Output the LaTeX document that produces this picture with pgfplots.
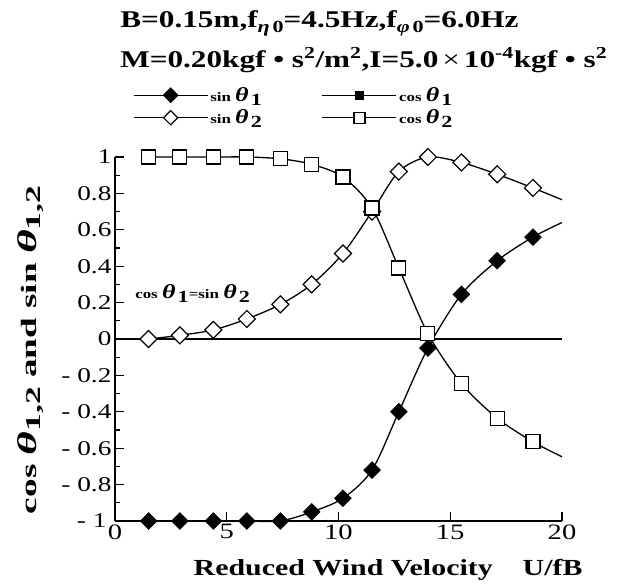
\documentclass[border=0pt]{standalone}
\usepackage{pgfplots}
\pgfplotsset{compat=1.18}
\usepackage{fontspec}
\setmainfont{Liberation Serif}[FakeStretch=1.3]

\newcommand{\tht}[1]{{\fontsize{#1}{#1}\selectfont\textit{θ}}}
\newcommand{\sub}[2]{\raisebox{-4pt}{\fontsize{#1}{#1}\selectfont #2}}

% x, value ; last row (x=20) is the end of the curve, drawn without a mark
\pgfplotstableread{
x     sinA    sinB    cosB
1.5   -1.0    0.00    1.00
2.9   -1.0    0.02    1.00
4.4   -1.0    0.05    1.00
5.9   -1.0    0.11    1.00
7.4   -1.0    0.19    0.99
8.8   -0.95   0.30    0.96
10.2  -0.875  0.47    0.89
11.5  -0.72   0.70    0.72
12.7  -0.40   0.92    0.39
14.0  -0.05   1.00    0.03
15.5   0.245  0.97   -0.245
17.1   0.43   0.905  -0.435
18.7   0.56   0.83   -0.565
20.0   0.64   0.765  -0.647
}\data

\begin{document}
\begin{tikzpicture}
\begin{axis}[
  at={(0pt,0pt)}, anchor=south west,
  scale only axis, width=447pt, height=364pt,
  xmin=0, xmax=20, ymin=-1, ymax=1,
  axis x line=bottom, axis y line=left,
  axis line style={-, line width=1.6pt},
  tick align=inside,
  major tick length=9pt, minor tick length=5pt,
  tick style={line width=1.2pt, black},
  xtick={0,5,10,15,20},
  xticklabels={0,5,10,15,20},
  ytick={-1,-0.8,-0.6,-0.4,-0.2,0,0.2,0.4,0.6,0.8,1},
  yticklabels={- 1\rule{5pt}{0pt},- 0.8,- 0.6,- 0.4,- 0.2,0,0.2,0.4,0.6,0.8,1},
  minor ytick={-0.9,-0.7,-0.5,-0.3,-0.1,0.1,0.3,0.5,0.7,0.9},
  xticklabel style={font=\fontsize{22}{22}\selectfont},
  yticklabel style={font=\fontsize{21}{21}\selectfont},
  xlabel={\bfseries Reduced Wind Velocity\hspace{30pt}U/fB},
  xlabel style={at={(axis description cs:0.611,0)}, anchor=base, yshift=-54pt, font=\fontsize{23}{23}\selectfont},
  ylabel={\scalebox{1.3}[1]{\bfseries cos \tht{27}\sub{21}{1,2} and sin \tht{27}\sub{21}{1,2}}},
  ylabel style={at={(axis description cs:-0.188,0.47)}, anchor=center, font=\fontsize{22}{22}\selectfont},
  clip=false,
  legend columns=2,
  legend style={at={(axis description cs:0.04,1.197)}, anchor=north west,
    draw=none, fill=none, font=\fontsize{13}{16}\selectfont\bfseries,
    inner sep=0pt, row sep=3pt, /tikz/every even column/.append style={column sep=58pt}},
  legend cell align=left,
  legend image code/.code={\draw[mark repeat=2,mark phase=2,#1] plot coordinates {(0pt,0pt)(37pt,0pt)(74pt,0pt)};},
]
% zero line
\addplot[black, line width=1.2pt, forget plot] coordinates {(0,0) (20,0)};

% curves
\addplot[black, line width=1.3pt, smooth, forget plot] table[y=sinA] {\data};
\addplot[black, line width=1.3pt, smooth, forget plot] table[y=sinB] {\data};
\addplot[black, line width=1.3pt, smooth, forget plot] table[y=cosB] {\data};

% marks (cos theta_1 coincides with sin theta_2 and is not drawn)
\addplot[only marks, mark=square*, mark size=6pt, mark options={rotate=45, fill=black, draw=black},
  skip coords between index={13}{14}, forget plot] table[y=sinA] {\data};
\addplot[only marks, mark=square*, mark size=6pt, mark options={rotate=45, fill=white, draw=black, line width=1.2pt},
  skip coords between index={13}{14}, forget plot] table[y=sinB] {\data};
\addplot[only marks, mark=square*, mark size=7pt, mark options={fill=white, draw=black, line width=1.2pt},
  skip coords between index={13}{14}, forget plot] table[y=cosB] {\data};

% legend
\addlegendimage{black, line width=1.2pt, mark=square*, mark size=5pt, mark options={rotate=45, fill=black}}
\addlegendentry{sin \tht{20}\,\sub{17}{1}}
\addlegendimage{black, line width=1.2pt, mark=square*, mark size=4pt, mark options={fill=black}}
\addlegendentry{cos \tht{20}\,\sub{17}{1}}
\addlegendimage{black, line width=1.2pt, mark=square*, mark size=5pt, mark options={rotate=45, fill=white}}
\addlegendentry{sin \tht{20}\,\sub{17}{2}}
\addlegendimage{black, line width=1.2pt, mark=square*, mark size=5.5pt, mark options={fill=white}}
\addlegendentry{cos \tht{20}\,\sub{17}{2}}

\node[anchor=base west, font=\fontsize{13}{16}\selectfont\bfseries] at (axis cs:0.75,0.22)
  {cos \tht{20}\,\sub{17}{1}=sin \tht{20}\,\sub{17}{2}};

\node[anchor=base west, font=\fontsize{24}{24}\selectfont\bfseries] at (axis description cs:0.004,1.357)
  {B=0.15m,f\raisebox{-5pt}{\fontsize{17}{17}\selectfont\textit{η}\,0}=4.5Hz,f\raisebox{-5pt}{\fontsize{17}{17}\selectfont\textit{φ}\,0}=6.0Hz};
\node[anchor=base west, font=\fontsize{24}{24}\selectfont\bfseries] at (axis description cs:0.004,1.247)
  {M=0.20kgf \textbullet{} s\textsuperscript{2}/m\textsuperscript{2},I=5.0{\mdseries\,×\,}10\textsuperscript{-4}kgf \textbullet{} s\textsuperscript{2}};
\end{axis}
\path[use as bounding box] (-115pt,-62pt) rectangle (509pt,521pt);
\end{tikzpicture}
\end{document}
